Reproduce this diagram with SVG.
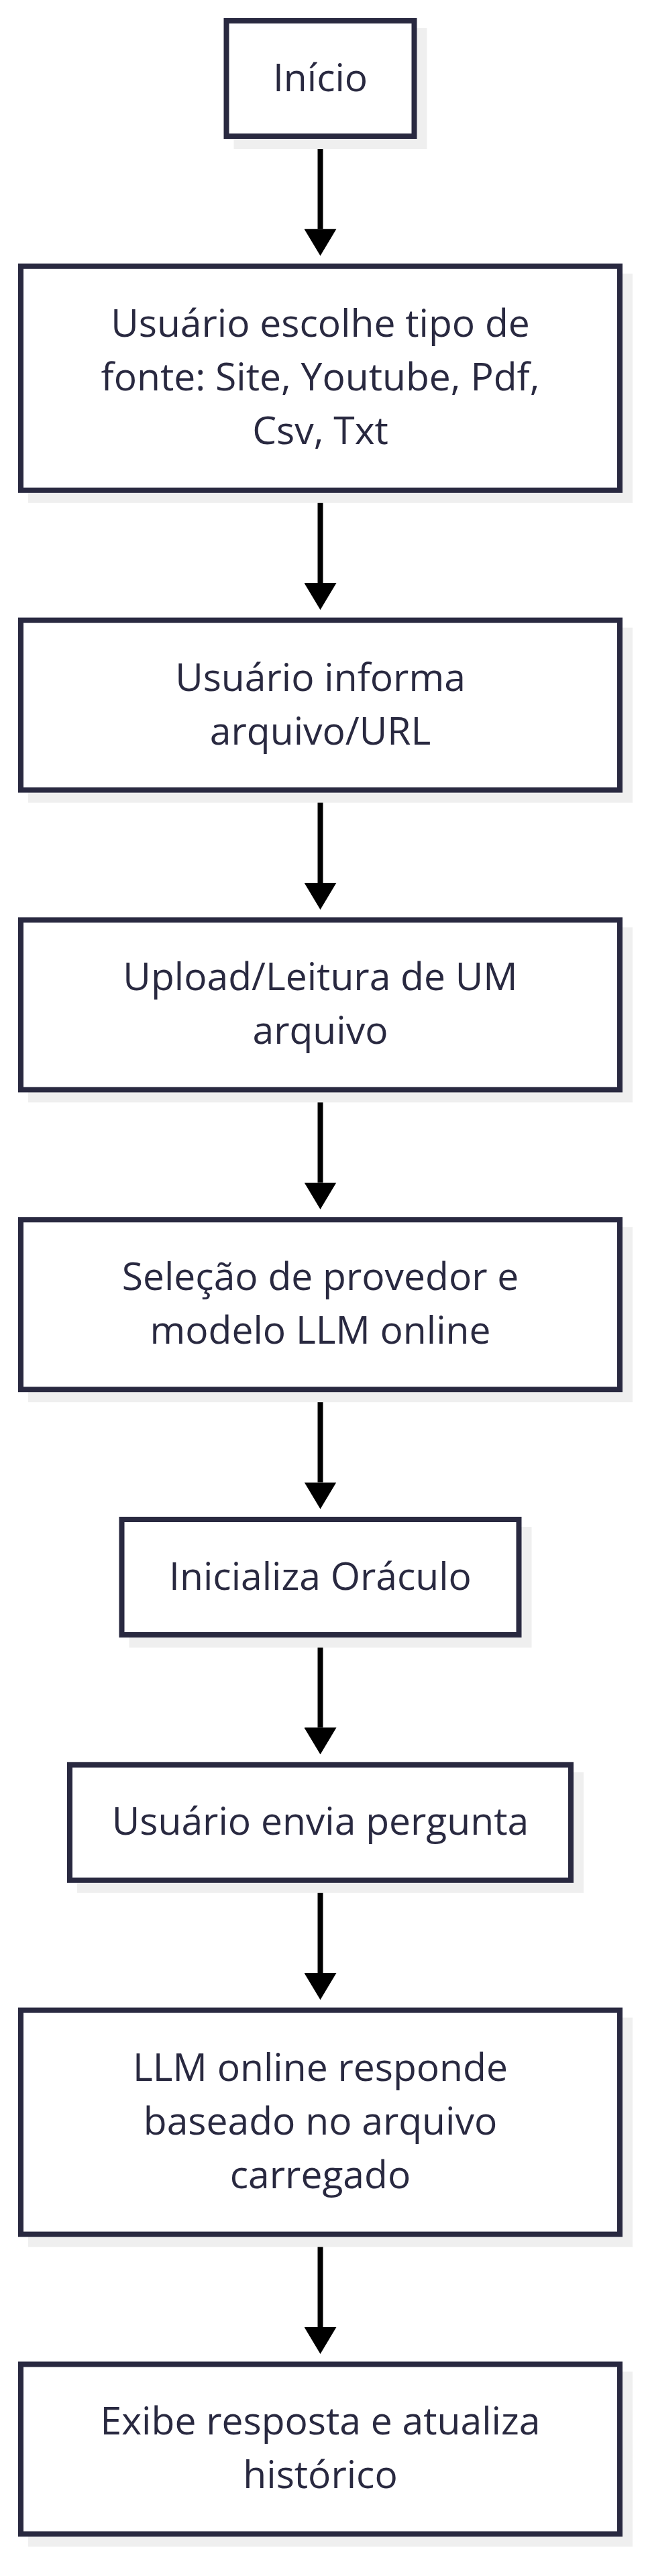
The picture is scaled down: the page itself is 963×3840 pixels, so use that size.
<svg xmlns="http://www.w3.org/2000/svg" width="963" height="3840" viewBox="0 0 963 3840">
<defs>
<style>
.shadow{fill:#efefef}
.box{fill:#ffffff;stroke:#292940;stroke-width:8}
.lbl{font-family:"Open Sans","Noto Sans","DejaVu Sans",sans-serif;font-size:57px;fill:#292940;text-anchor:middle}
.edge{stroke:#000000;stroke-width:8;fill:none}
</style>
<marker id="arrow" markerUnits="userSpaceOnUse" markerWidth="40" markerHeight="48" viewBox="0 0 40 48" refX="0" refY="24" orient="auto">
<path d="M0,0 L40,24 L0,48 Z" fill="#000000"/>
</marker>
</defs>
<rect width="963" height="3840" fill="#ffffff"/>
<g id="connectors">
<line class="edge" x1="477.5" y1="207" x2="477.5" y2="341.3" marker-end="url(#arrow)"/>
<line class="edge" x1="477.5" y1="734.8" x2="477.5" y2="869.1" marker-end="url(#arrow)"/>
<line class="edge" x1="477.5" y1="1181.6" x2="477.5" y2="1315.9" marker-end="url(#arrow)"/>
<line class="edge" x1="477.5" y1="1628.4" x2="477.5" y2="1762.7" marker-end="url(#arrow)"/>
<line class="edge" x1="477.5" y1="2075.2" x2="477.5" y2="2209.5" marker-end="url(#arrow)"/>
<line class="edge" x1="477.5" y1="2441" x2="477.5" y2="2575.3" marker-end="url(#arrow)"/>
<line class="edge" x1="477.5" y1="2806.8" x2="477.5" y2="2941.1" marker-end="url(#arrow)"/>
<line class="edge" x1="477.5" y1="3334.6" x2="477.5" y2="3468.9" marker-end="url(#arrow)"/>
</g>
<g id="n1">
<rect class="shadow" x="348.5" y="42" width="288" height="180"/>
<rect class="box" x="337.5" y="31" width="280" height="172"/>
<text class="lbl" x="477.5" y="135.5">Início</text>
</g>
<g id="n2">
<rect class="shadow" x="42" y="407.8" width="901" height="342"/>
<rect class="box" x="31" y="396.8" width="893" height="334"/>
<text class="lbl" x="477.5" y="502.3">Usuário escolhe tipo de</text>
<text class="lbl" x="477.5" y="582.3">fonte: Site, Youtube, Pdf,</text>
<text class="lbl" x="477.5" y="662.3">Csv, Txt</text>
</g>
<g id="n3">
<rect class="shadow" x="42" y="935.6" width="901" height="261"/>
<rect class="box" x="31" y="924.6" width="893" height="253"/>
<text class="lbl" x="477.5" y="1029.6">Usuário informa</text>
<text class="lbl" x="477.5" y="1109.6">arquivo/URL</text>
</g>
<g id="n4">
<rect class="shadow" x="42" y="1382.4" width="901" height="261"/>
<rect class="box" x="31" y="1371.4" width="893" height="253"/>
<text class="lbl" x="477.5" y="1476.4">Upload/Leitura de UM</text>
<text class="lbl" x="477.5" y="1556.4">arquivo</text>
</g>
<g id="n5">
<rect class="shadow" x="42" y="1829.2" width="901" height="261"/>
<rect class="box" x="31" y="1818.2" width="893" height="253"/>
<text class="lbl" x="477.5" y="1923.2">Seleção de provedor e</text>
<text class="lbl" x="477.5" y="2003.2">modelo LLM online</text>
</g>
<g id="n6">
<rect class="shadow" x="192.5" y="2276" width="600" height="180"/>
<rect class="box" x="181.5" y="2265" width="592" height="172"/>
<text class="lbl" x="477.5" y="2369.5">Inicializa Oráculo</text>
</g>
<g id="n7">
<rect class="shadow" x="115" y="2641.8" width="755" height="180"/>
<rect class="box" x="104" y="2630.8" width="747" height="172"/>
<text class="lbl" x="477.5" y="2735.3">Usuário envia pergunta</text>
</g>
<g id="n8">
<rect class="shadow" x="42" y="3007.6" width="901" height="342"/>
<rect class="box" x="31" y="2996.6" width="893" height="334"/>
<text class="lbl" x="477.5" y="3102.1">LLM online responde</text>
<text class="lbl" x="477.5" y="3182.1">baseado no arquivo</text>
<text class="lbl" x="477.5" y="3262.1">carregado</text>
</g>
<g id="n9">
<rect class="shadow" x="42" y="3535.4" width="901" height="261"/>
<rect class="box" x="31" y="3524.4" width="893" height="253"/>
<text class="lbl" x="477.5" y="3629.4">Exibe resposta e atualiza</text>
<text class="lbl" x="477.5" y="3709.4">histórico</text>
</g>
</svg>
